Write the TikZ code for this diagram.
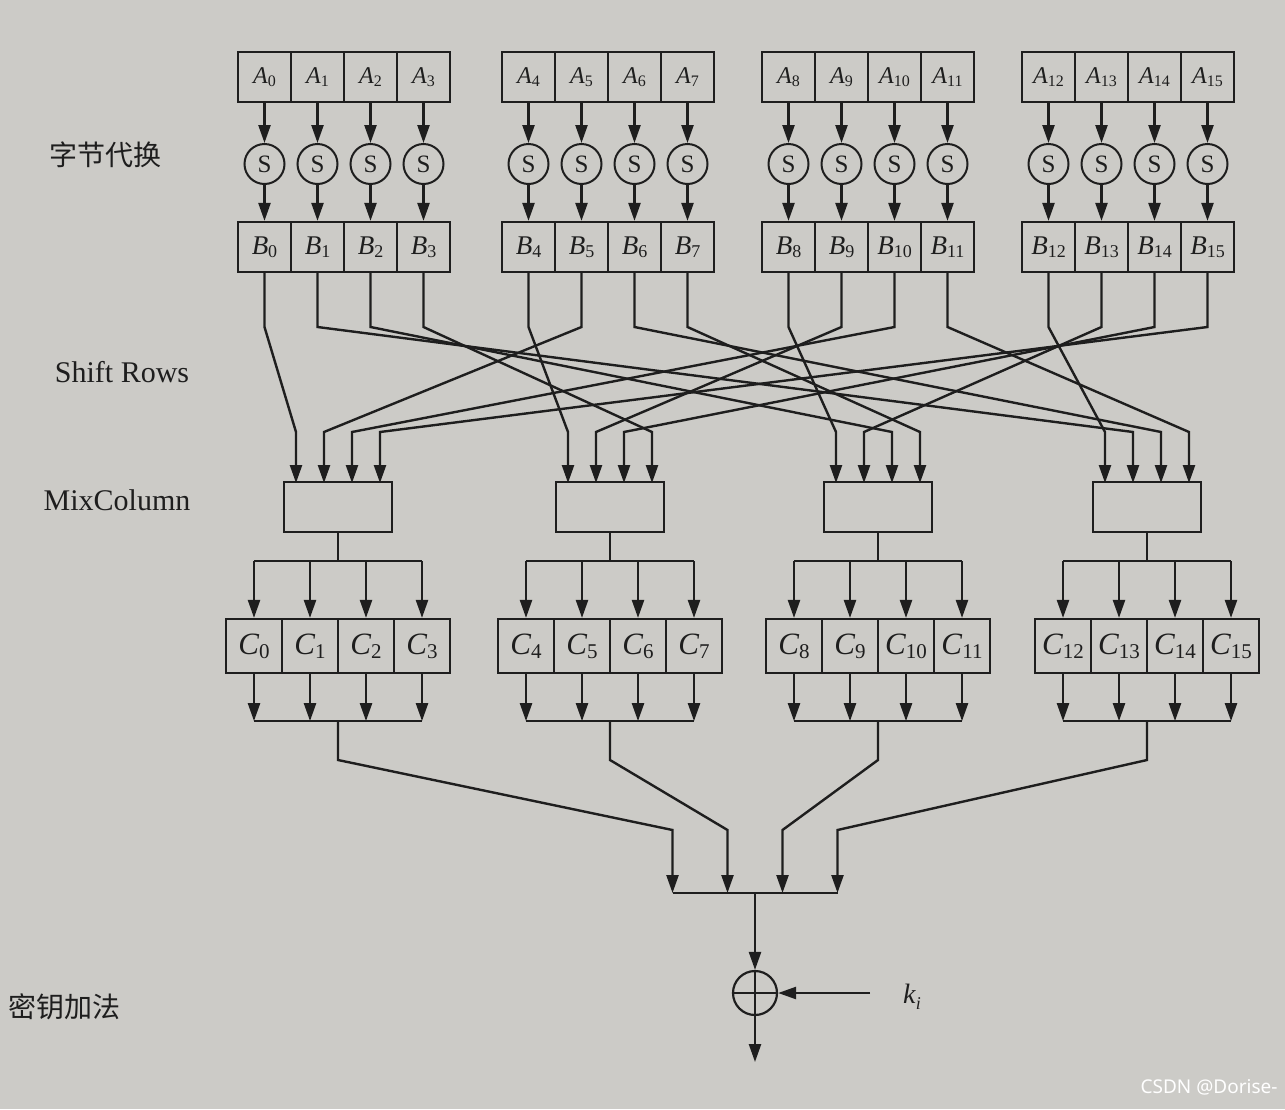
\documentclass[tikz,border=0pt]{standalone}
\usepackage{fontspec}
\setmainfont{Liberation Serif}
\newfontfamily\cjk{Noto Sans CJK SC}
\newfontfamily\marksans{Noto Sans}
\usetikzlibrary{arrows.meta, calc}
\definecolor{paper}{RGB}{204,203,199}
\definecolor{ink}{RGB}{30,30,30}
% italic letter with a small upright index, as in the cells
\newcommand\cellname[3]{\textit{#1}\raisebox{-0.12em}{\fontsize{#3}{#3}\selectfont #2}}

\begin{document}
\begin{tikzpicture}[x=1pt, y=-1pt,
  cell/.style={rectangle, draw=ink, line width=2.2pt, minimum width=53pt, minimum height=50pt, inner sep=0pt, text=ink},
  ccell/.style={cell, minimum width=56pt, minimum height=54pt},
  sbox/.style={circle, draw=ink, line width=2pt, minimum size=40pt, inner sep=0pt, text=ink, font=\fontsize{25}{28}\selectfont},
  mixbox/.style={rectangle, draw=ink, line width=2.2pt, minimum width=108pt, minimum height=50pt},
  xorbox/.style={circle, draw=ink, line width=2.2pt, minimum size=44pt, inner sep=0pt,
    path picture={\draw[ink, line width=2.2pt] (path picture bounding box.north) -- (path picture bounding box.south)
      (path picture bounding box.west) -- (path picture bounding box.east);}},
  arrow/.style={-{Triangle[length=18pt, width=12pt]}, line width=2.4pt, draw=ink},
  wire/.style={line width=2.4pt, draw=ink},
  lbl/.style={text=ink, font=\fontsize{30}{34}\selectfont},
  cjklbl/.style={text=ink, font=\cjk\fontsize{28}{32}\selectfont}
]
  \fill[paper] (0,0) rectangle (1285,1109);
  \useasboundingbox (0,0) rectangle (1285,1109);

  % Step labels (left)
  \node[cjklbl] (subbytes) at (105,155) {字节代换};
  \node[lbl] (shiftrows) at (122,372) {Shift Rows};
  \node[lbl] (mixcol) at (117,500) {MixColumn};
  \node[cjklbl] (addkey) at (65,1007) {密钥加法};

  % Bend levels of the Shift Rows wiring and the output bars
  \coordinate (bendtop) at (0,327);
  \coordinate (bendbot) at (0,432);
  \coordinate (outtop) at (0,760);
  \coordinate (outbot) at (0,830);

  % Four columns: A -> S -> B, mix box, C
  \foreach \grp/\cx/\mx in {0/344/338, 1/608/610, 2/868/878, 3/1128/1147} {
    \foreach \i in {0,...,3} {
      \pgfmathtruncatemacro\k{4*\grp+\i}
      \node[cell, font=\fontsize{24}{28}\selectfont] (A\k) at ({\cx+(\i-1.5)*53}, 77) {\cellname{A}{\k}{16}};
      \node[sbox] (S\k) at ({\cx+(\i-1.5)*53}, 164) {S};
      \node[cell, font=\fontsize{27}{30}\selectfont] (B\k) at ({\cx+(\i-1.5)*53}, 247) {\cellname{B}{\k}{18}};
      \node[ccell, font=\fontsize{31}{34}\selectfont] (C\k) at ({\mx+(\i-1.5)*56}, 646) {\cellname{C}{\k}{21}};
      \coordinate (Min\grp\i) at ({\mx+(\i-1.5)*28}, 483);
      \draw[arrow] (A\k) -- (S\k);
      \draw[arrow] (S\k) -- (B\k);
    }
    \node[mixbox] (M\grp) at (\mx, 507) {};
    \coordinate (F\grp) at ({755+(\grp-1.5)*55}, 893);
  }

  % Shift Rows
  \foreach \col in {0,...,3} {
    \foreach \row in {0,...,3} {
      \pgfmathtruncatemacro\src{4*\col+\row}
      \pgfmathtruncatemacro\dst{mod(\col-\row+4,4)}
      \draw[arrow] (B\src.south) -- (B\src.south |- bendtop) -- (Min\dst\row |- bendbot) -- (Min\dst\row);
    }
  }

  % Mix box outputs to C, C outputs to the key addition
  \foreach \grp in {0,...,3} {
    \pgfmathtruncatemacro\first{4*\grp}
    \pgfmathtruncatemacro\last{4*\grp+3}
    \coordinate (Mbar\grp) at ($(M\grp.south)+(0,28)$);
    \coordinate (Cbar\grp) at ($(M\grp.south)+(0,188)$);
    \draw[wire] (M\grp.south) -- (Mbar\grp);
    \draw[wire] (C\first.north |- Mbar\grp) -- (C\last.north |- Mbar\grp);
    \draw[wire] (C\first.south |- Cbar\grp) -- (C\last.south |- Cbar\grp);
    \foreach \i in {0,...,3} {
      \pgfmathtruncatemacro\k{4*\grp+\i}
      \draw[arrow] (C\k.north |- Mbar\grp) -- (C\k.north);
      \draw[arrow] (C\k.south) -- (C\k.south |- Cbar\grp);
    }
    \draw[arrow] (Cbar\grp) -- (Cbar\grp |- outtop) -- (F\grp |- outbot) -- (F\grp);
  }

  % Key addition
  \coordinate (Fmid) at ($(F1)!0.5!(F2)$);
  \draw[wire] (F0) -- (F3);
  \node[xorbox] (xor) at (755,993) {};
  \node[text=ink, font=\fontsize{28}{32}\selectfont] (key) at (912,997) {\textit{k}\raisebox{-0.2em}{\fontsize{18}{18}\selectfont\textit{i}}};
  \coordinate (keyin) at (870,993);
  \coordinate (out) at (755,1062);
  \draw[arrow] (Fmid) -- (xor);
  \draw[arrow] (keyin) -- (xor);
  \draw[arrow] (xor) -- (out);

  % Watermark
  \node[text=white, font=\marksans\fontsize{19}{22}\selectfont, anchor=east] (mark) at (1281,1087) {CSDN @Dorise-};
\end{tikzpicture}
\end{document}
